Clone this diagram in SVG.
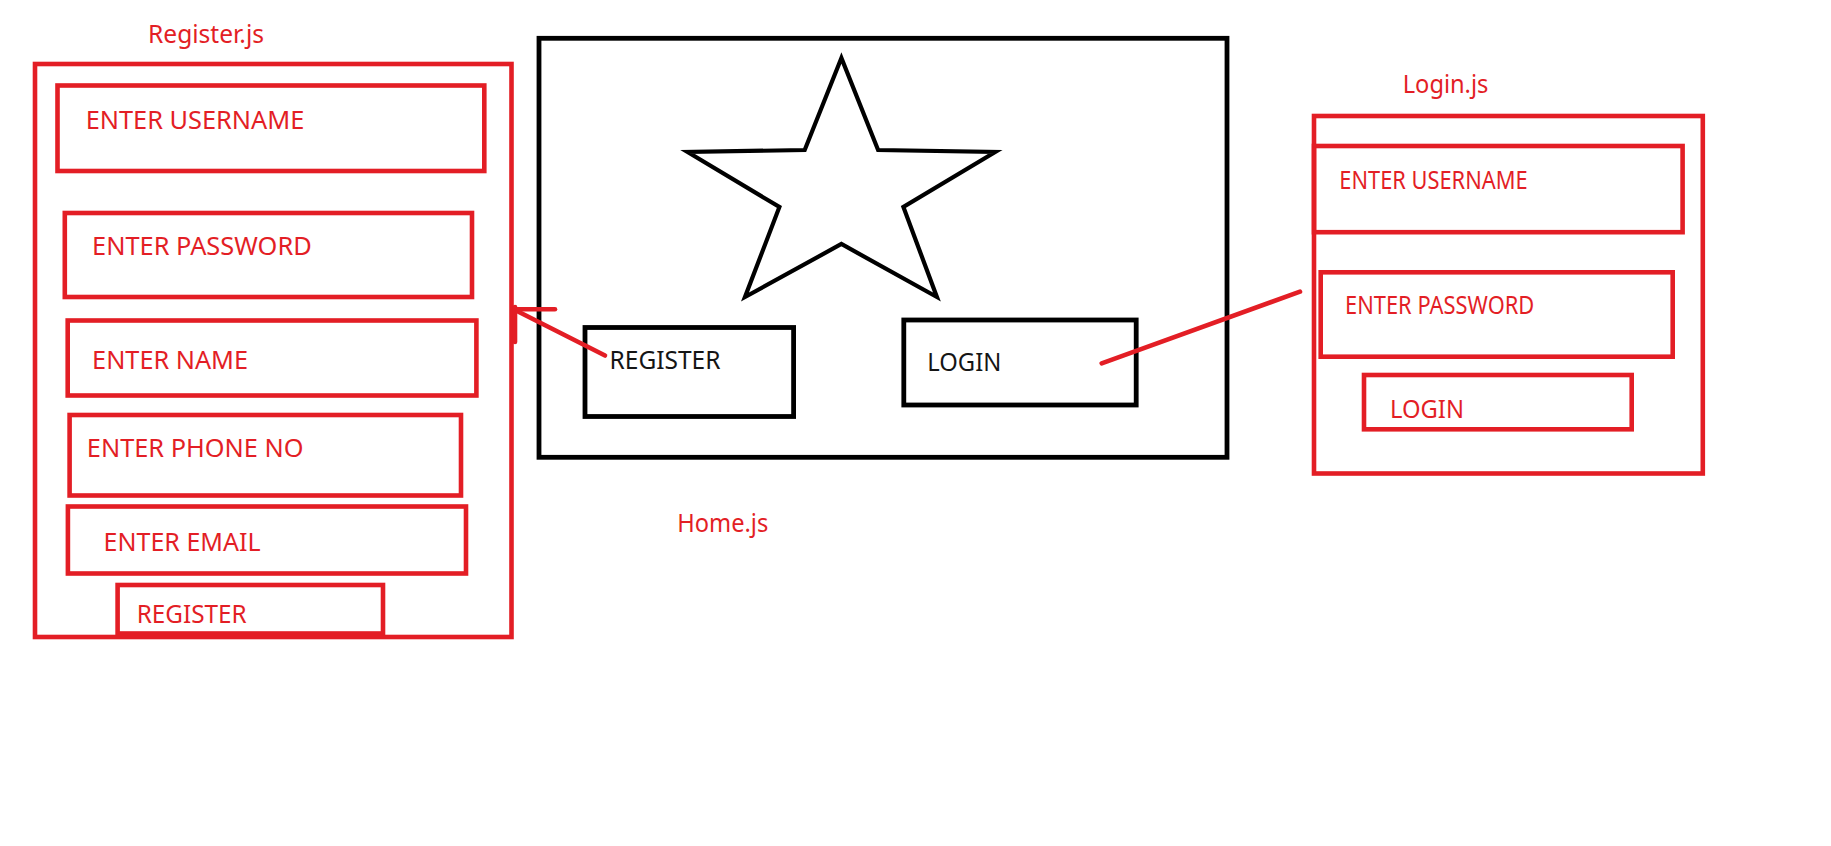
<svg xmlns="http://www.w3.org/2000/svg" width="1831" height="846" viewBox="0 0 1831 846">
  <style>
    .rbox { fill: none; stroke: #E31E25; stroke-width: 4.6; }
    .kbox { fill: none; stroke: #000000; stroke-width: 4.8; }
    .rtxt { font-family: "Noto Sans", "Open Sans", sans-serif; font-size: 26px; fill: #E31E25; }
    .ktxt { font-family: "Noto Sans", "Open Sans", sans-serif; font-size: 25px; fill: #151515; }
    .conn { fill: none; stroke: #E31E25; stroke-width: 4.6; stroke-linecap: round; }
  </style>
  <rect width="1831" height="846" fill="#ffffff"/>

  <!-- Register.js panel -->
  <g id="register-panel">
    <text class="rtxt" x="148" y="43" font-size="25" textLength="116" lengthAdjust="spacingAndGlyphs">Register.js</text>
    <rect class="rbox" x="35" y="64" width="476.5" height="573"/>
  </g>
  <g id="reg-username">
    <rect class="rbox" x="57.5" y="85.5" width="426.8" height="85.5"/>
    <text class="rtxt" x="85.7" y="129" textLength="218.6" lengthAdjust="spacingAndGlyphs">ENTER USERNAME</text>
  </g>
  <g id="reg-password">
    <rect class="rbox" x="64.8" y="213" width="407.2" height="84"/>
    <text class="rtxt" x="92.1" y="255" textLength="219.6" lengthAdjust="spacingAndGlyphs">ENTER PASSWORD</text>
  </g>
  <g id="reg-name">
    <rect class="rbox" x="67.7" y="320.5" width="408.7" height="75"/>
    <text class="rtxt" x="92.1" y="369" textLength="156" lengthAdjust="spacingAndGlyphs">ENTER NAME</text>
  </g>
  <g id="reg-phone">
    <rect class="rbox" x="69.6" y="415" width="391.4" height="80.5"/>
    <text class="rtxt" x="86.8" y="457" textLength="216.8" lengthAdjust="spacingAndGlyphs">ENTER PHONE NO</text>
  </g>
  <g id="reg-email">
    <rect class="rbox" x="67.9" y="506.5" width="398.1" height="67"/>
    <text class="rtxt" x="103.6" y="551" textLength="157" lengthAdjust="spacingAndGlyphs">ENTER EMAIL</text>
  </g>
  <g id="reg-button">
    <rect class="rbox" x="117.6" y="585" width="265.4" height="48.5"/>
    <text class="rtxt" x="136.7" y="623.3" textLength="110" lengthAdjust="spacingAndGlyphs">REGISTER</text>
  </g>

  <!-- Home.js panel -->
  <g id="home-panel">
    <rect class="kbox" x="539" y="38.3" width="688" height="419"/>
    <text class="rtxt" x="677.3" y="531.7" font-size="25" textLength="91" lengthAdjust="spacingAndGlyphs">Home.js</text>
  </g>
  <g id="home-star">
    <polygon points="841.4,58 804.7,150 687.6,152 779.4,207 745,297 841.4,244 936.9,297 903.4,207 995.2,152 878.1,150" fill="none" stroke="#000000" stroke-width="4.2" stroke-linejoin="miter"/>
  </g>
  <g id="home-register">
    <rect class="kbox" x="585" y="327.5" width="208.6" height="89"/>
    <text class="ktxt" x="609.5" y="369.3" textLength="111" lengthAdjust="spacingAndGlyphs">REGISTER</text>
  </g>
  <g id="home-login">
    <rect class="kbox" x="903.8" y="320" width="232.4" height="85"/>
    <text class="ktxt" x="927.3" y="370.7" textLength="74" lengthAdjust="spacingAndGlyphs">LOGIN</text>
  </g>

  <!-- Login.js panel -->
  <g id="login-panel">
    <text class="rtxt" x="1402.7" y="93.3" font-size="24" textLength="85.7" lengthAdjust="spacingAndGlyphs">Login.js</text>
    <rect class="rbox" x="1314" y="116" width="388.8" height="357.5"/>
  </g>
  <g id="login-username">
    <rect class="rbox" x="1314" y="146" width="368.6" height="86.2"/>
    <text class="rtxt" x="1339.3" y="189.3" textLength="188.3" lengthAdjust="spacingAndGlyphs">ENTER USERNAME</text>
  </g>
  <g id="login-password">
    <rect class="rbox" x="1320.7" y="272.3" width="352" height="84.4"/>
    <text class="rtxt" x="1345" y="314.3" textLength="189.3" lengthAdjust="spacingAndGlyphs">ENTER PASSWORD</text>
  </g>
  <g id="login-button">
    <rect class="rbox" x="1364" y="375" width="267.7" height="54.3"/>
    <text class="rtxt" x="1390" y="418.3" textLength="74" lengthAdjust="spacingAndGlyphs">LOGIN</text>
  </g>

  <!-- connectors -->
  <g id="connectors">
    <line class="conn" x1="605" y1="355.5" x2="516" y2="310.5"/>
    <line class="conn" x1="514" y1="309.3" x2="555" y2="309.3"/>
    <line class="conn" x1="515" y1="307" x2="515" y2="342" stroke-linecap="butt"/>
    <line class="conn" x1="1101.7" y1="363.3" x2="1300" y2="291.7"/>
  </g>
</svg>
